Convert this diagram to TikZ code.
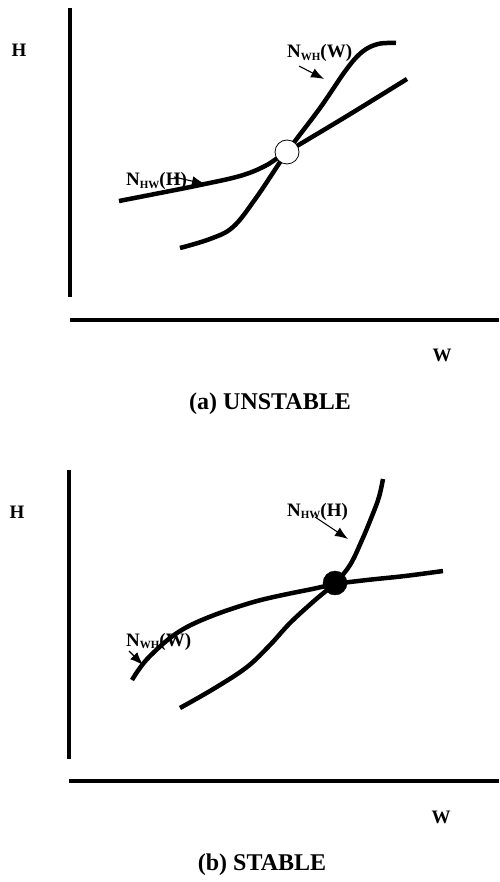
\documentclass[tikz,border=0pt]{standalone}
\usepackage{fontspec}
\setmainfont{Liberation Serif}
\usepackage{tikz}
\usetikzlibrary{arrows.meta}
\newcommand{\Nsub}[2]{N\raisebox{-0.3ex}{\fontsize{11}{11}\selectfont #1}(#2)}
\begin{document}
\begin{tikzpicture}[x=1pt, y=-1pt,
			>={Latex[length=13pt,width=10pt]},   %Pfeilspitzen
			kurve/.style={line width=4.5pt, line cap=butt},
			achse/.style={line width=3.5pt},
			pfeil/.style={->, line width=1.1pt},
			etikett/.style={font=\fontsize{19}{19}\selectfont\bfseries, inner sep=0pt, anchor=base west},
			achsname/.style={font=\fontsize{19}{19}\selectfont\bfseries, inner sep=0pt},
			titel/.style={font=\fontsize{24}{24}\selectfont\bfseries, inner sep=0pt}]
			\useasboundingbox (0,0) rectangle (499,882);
			%%%%% (a) instabil
			% Achsen
			\draw[achse] (70,8) -- (70,297);
			\draw[achse] (70,320) -- (499,320);
			\node[achsname] (Ha) at (19,50) {H};
			\node[achsname] (Wa) at (442,355) {W};
			% Kurven
			\draw[kurve] plot[smooth, tension=0.6] coordinates {(119,201) (160,193) (200,185) (240,176) (265,166) (287,152) (347,116) (407,79)};
			\draw[kurve] plot[smooth, tension=0.6] coordinates {(180,248) (210,239) (233,227) (256,198) (287,152) (320,108) (346,70) (362,52) (378,44) (396,43)};
			% Gleichgewicht
			\node[draw, circle, fill=white, line width=0.8pt, minimum size=24pt, inner sep=0pt] (ga) at (287,152) {};
			% Beschriftung
			\node[etikett] (hwa) at (126,186) {\Nsub{HW}{H}};
			\node[etikett] (wha) at (287,58) {\Nsub{WH}{W}};
			\coordinate (hwa-s) at (174,177);
			\coordinate (hwa-e) at (205,184);
			\coordinate (wha-s) at (299,66);
			\coordinate (wha-e) at (324,79);
			\draw[pfeil] (hwa-s) -- (hwa-e);
			\draw[pfeil] (wha-s) -- (wha-e);
			\node[titel] (ta) at (270,404) {(a) UNSTABLE};
			%%%%% (b) stabil
			% Achsen
			\draw[achse] (69,470) -- (69,759);
			\draw[achse] (69,781) -- (499,781);
			\node[achsname] (Hb) at (17,512) {H};
			\node[achsname] (Wb) at (441,817) {W};
			% Kurven
			\draw[kurve] plot[smooth, tension=0.6] coordinates {(180,708) (215,688) (247,667) (270,645) (290,623) (314,601) (335,583) (350,565) (362,540) (372,516) (379,497) (383,479)};
			\draw[kurve] plot[smooth, tension=0.6] coordinates {(132,680) (150,656) (187,627) (250,603) (317,588) (335,584) (367,580) (405,576) (443,571)};
			% Gleichgewicht
			\node[draw, circle, fill=black, minimum size=24pt, inner sep=0pt] (gb) at (335,583) {};
			% Beschriftung
			\node[etikett] (hwb) at (287,516) {\Nsub{HW}{H}};
			\node[etikett] (whb) at (126,646) {\Nsub{WH}{W}};
			\coordinate (hwb-s) at (315,517);
			\coordinate (hwb-e) at (348,539);
			\coordinate (whb-s) at (129,651);
			\coordinate (whb-e) at (143,665);
			\draw[pfeil] (hwb-s) -- (hwb-e);
			\draw[pfeil] (whb-s) -- (whb-e);
			\node[titel] (tb) at (262,865) {(b) STABLE};
		\end{tikzpicture}
\end{document}
